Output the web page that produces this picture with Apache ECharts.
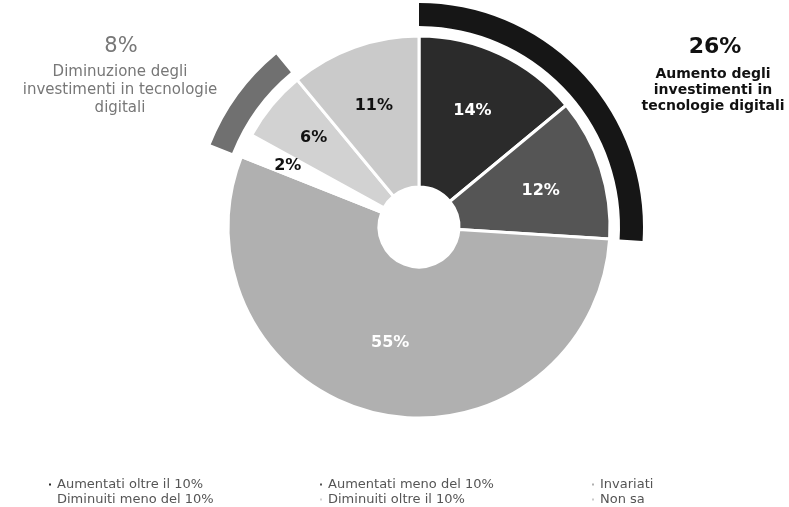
<!DOCTYPE html>
<html>
<head>
<meta charset="utf-8">
<script src="https://cdn.jsdelivr.net/npm/echarts@6/dist/echarts.min.js"></script>
<style>
  html, body { margin: 0; padding: 0; background: #fff; }
  #chart { width: 789px; height: 507px; }
</style>
</head>
<body>
<div id="chart"></div>
<script>
// quota di imprese per variazione degli investimenti digitali
var myChart = echarts.init(document.getElementById('chart'));

var categories = ['Aumentati oltre il 10%', 'Aumentati meno del 10%', 'Invariati',
                  'Diminuiti meno del 10%', 'Diminuiti oltre il 10%', 'Non sa'];
var values = [14, 12, 55, 2, 6, 11];
var sliceColors = ['#2b2b2b', '#555555', '#b0b0b0', '#ffffff', '#d2d2d2', '#cacaca'];
var labelColors = ['#fff', '#fff', '#fff', '#111', '#111', '#111'];
// spostamento etichette [dx, dy] rispetto al centro della fetta
var labelShift = [[3, -9], [9, 0], [-3, 0], [-24, -11], [-14, -14], [-5, -10]];

// archi esterni: aumento (26%), invariati, diminuzione (8%), non sa
var groupValues = [26, 55, 8, 11];
var groupColors = ['#161616', 'rgba(0,0,0,0)', '#707070', 'rgba(0,0,0,0)'];

// legenda: 3 colonne x 2 righe
var legendLeft = [47, 318, 590, 47, 318, 590];
var legendTop = [478, 478, 478, 493, 493, 493];

var fontName = 'DejaVu Sans';

var pieData = [];
for (var i = 0; i < categories.length; i++) {
    pieData.push({
        name: categories[i],
        value: values[i],
        itemStyle: { color: sliceColors[i] },
        label: { color: labelColors[i] }
    });
}
var arcData = [];
for (var j = 0; j < groupValues.length; j++) {
    arcData.push({ value: groupValues[j], itemStyle: { color: groupColors[j] } });
}

var legends = [];
for (var k = 0; k < categories.length; k++) {
    legends.push({
        left: legendLeft[k], top: legendTop[k], padding: 0,
        itemWidth: 4, itemHeight: 4,
        icon: 'rect', data: [categories[k]],
        textStyle: { color: '#555', fontSize: 13, fontFamily: fontName }
    });
}

var option = {
    backgroundColor: '#fff',
    legend: legends,
    title: [
        {
            text: '26%', left: 710, top: 31, textAlign: 'center',
            textStyle: { color: '#111', fontSize: 22, fontWeight: 'bold', fontFamily: fontName }
        },
        {
            text: 'Aumento degli\ninvestimenti in\ntecnologie digitali', left: 708, top: 61, textAlign: 'center',
            textStyle: { color: '#111', fontSize: 14, fontWeight: 'bold', fontFamily: fontName, lineHeight: 16 }
        },
        {
            text: '8%', left: 116, top: 31, textAlign: 'center',
            textStyle: { color: '#777', fontSize: 21, fontWeight: 'normal', fontFamily: fontName }
        },
        {
            text: 'Diminuzione degli\ninvestimenti in tecnologie\ndigitali', left: 115, top: 58, textAlign: 'center',
            textStyle: { color: '#777', fontSize: 15, fontWeight: 'normal', fontFamily: fontName, lineHeight: 18 }
        }
    ],
    series: [
        {
            type: 'pie',
            center: [419, 227],
            radius: [40, 191],
            startAngle: 90,
            clockwise: true,
            avoidLabelOverlap: false,
            itemStyle: { borderColor: '#fff', borderWidth: 3 },
            label: {
                show: true, position: 'inside', formatter: '{c}%',
                fontSize: 16, fontWeight: 'bold', fontFamily: fontName
            },
            labelLine: { show: false },
            labelLayout: function (params) {
                var s = labelShift[params.dataIndex];
                return { dx: s[0], dy: s[1] };
            },
            emphasis: { disabled: true },
            data: pieData
        },
        {
            type: 'pie',
            center: [419, 227],
            radius: [201, 224],
            startAngle: 90,
            clockwise: true,
            silent: true,
            label: { show: false },
            labelLine: { show: false },
            itemStyle: { borderWidth: 0 },
            data: arcData
        }
    ]
};

myChart.setOption(option);
</script>
</body>
</html>
